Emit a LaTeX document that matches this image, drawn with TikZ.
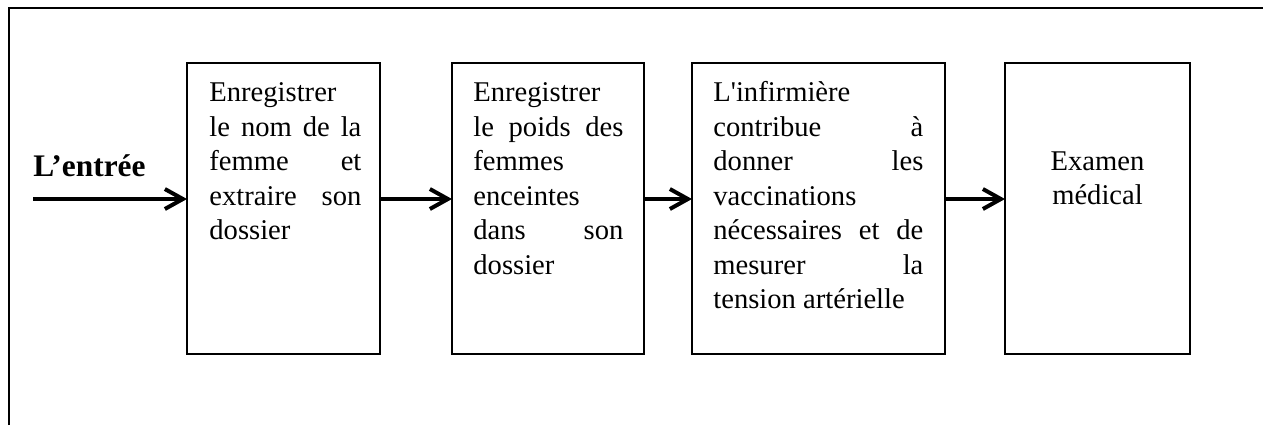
\documentclass[tikz,border=0pt]{standalone}
\usepackage{fontspec}
\setmainfont{Liberation Serif}
\usetikzlibrary{arrows.meta}
\setlength{\parindent}{0pt}
\begin{document}
\begin{tikzpicture}[x=0.5pt,y=-0.5pt,
  box/.style={draw,line width=1pt,minimum height=145.5pt,inner sep=0pt,outer sep=0pt},
  txt/.style={anchor=north west,inner sep=0pt,align=justify,font=\fontsize{14.3pt}{17.25pt}\selectfont},
  flow/.style={line width=2pt,-{Straight Barb[length=9pt,width=10pt]}}
]
\useasboundingbox (0,0) rectangle (1263,425);
\draw[line width=1.3pt] (9,425) -- (9,8) -- (1263,8);

\node[box,minimum width=96.5pt] (b1) at (283.5,208.5) {};
\node[box,minimum width=96pt] (b2) at (548,208.5) {};
\node[box,minimum width=126.5pt] (b3) at (818.5,208.5) {};
\node[box,minimum width=92.5pt] (b4) at (1097.5,208.5) {};

\node[txt,text width=76pt] (t1) at (209,77.4) {\strut Enregistrer\linebreak le nom de la\linebreak femme et\linebreak extraire son\linebreak dossier};
\node[txt,text width=75pt] (t2) at (473,77.4) {\strut Enregistrer\linebreak le poids des\linebreak femmes\linebreak enceintes\linebreak dans son\linebreak dossier};
\node[txt,text width=105pt] (t3) at (713,77.4) {\strut L\textquotesingle infirmière\linebreak contribue à\linebreak donner les\linebreak vaccinations\linebreak nécessaires et de\linebreak mesurer la\linebreak tension artérielle};
\node[txt,anchor=north,align=center,text width=90pt] (t4) at (1097.5,145.9) {\strut Examen\\médical};

\node[anchor=base west,inner sep=0pt,font=\fontsize{15.7pt}{18pt}\selectfont\bfseries] (lab) at (33,176) {L’entrée};

\coordinate (in) at (33,199);
\draw[flow] (in) -- (b1.west |- in);
\draw[flow] (b1.east |- in) -- (b2.west |- in);
\draw[flow] (b2.east |- in) -- (b3.west |- in);
\draw[flow] (b3.east |- in) -- (b4.west |- in);
\end{tikzpicture}
\end{document}
